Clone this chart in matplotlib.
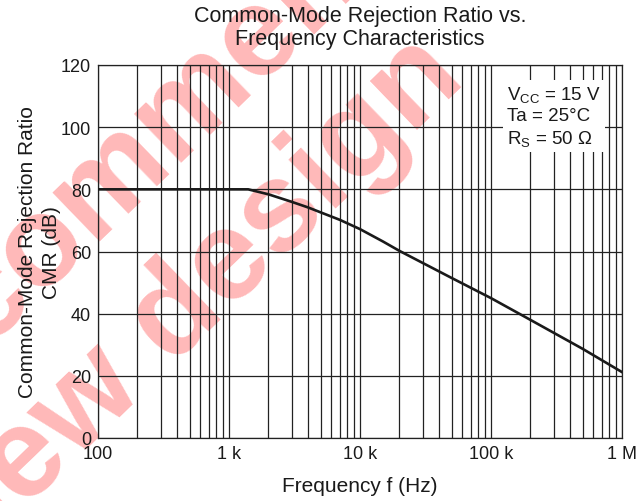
import matplotlib
matplotlib.use('Agg')
import matplotlib.pyplot as plt
from matplotlib.ticker import FixedLocator, LogLocator, NullFormatter

plt.rcParams['font.family'] = ['Liberation Sans', 'DejaVu Sans']
plt.rcParams['mathtext.default'] = 'regular'

# curve
freq_hz = [100, 1000, 1400, 2000, 3000, 4000, 5000, 7000, 10000, 15000,
           20000, 50000, 100000, 200000, 500000, 1000000]
cmr_db = [80, 80, 80, 78.4, 76, 74.2, 72.6, 70.2, 67.2, 63.2,
          60.2, 51.5, 45, 38, 28.7, 21.2]

x_ticks = [100, 1000, 10000, 100000, 1000000]
x_tick_labels = ['100', '1 k', '10 k', '100 k', '1 M']
y_ticks = [0, 20, 40, 60, 80, 100, 120]

conditions = 'V$_{CC}$ = 15 V\nTa = 25°C\nR$_S$ = 50 Ω'

fig = plt.figure(figsize=(6.37, 5.02), dpi=100)
ax = fig.add_axes([98 / 637, 1 - 439 / 502, 524 / 637, 373 / 502])
ax.set_facecolor('none')

# watermark sits behind everything
wm = dict(color='#ff0000', alpha=0.28, fontsize=92, fontweight='bold',
          rotation=44, rotation_mode='anchor', va='baseline', zorder=-5)
fig.text(528 / 637, 1 + 172 / 502, 'Not recommended', ha='right', **wm)
fig.text(468 / 637, 1 - 81 / 502, 'for new design', ha='right', **wm)

ax.plot(freq_hz, cmr_db, color='#1a1a1a', lw=1.9, zorder=3)

ax.set_xscale('log')
ax.set_xlim(100, 1e6)
ax.set_ylim(0, 120)
ax.xaxis.set_major_locator(FixedLocator(x_ticks))
ax.set_xticklabels(x_tick_labels)
ax.xaxis.set_minor_locator(LogLocator(base=10, subs=range(2, 10)))
ax.xaxis.set_minor_formatter(NullFormatter())
ax.set_yticks(y_ticks)

ax.grid(True, which='both', color='#222222', lw=0.9)
ax.tick_params(which='both', length=0, labelsize=13, pad=5, colors='#1a1a1a')
for s in ax.spines.values():
    s.set_color('#222222')
    s.set_linewidth(0.9)

ax.set_xlabel('Frequency f (Hz)', fontsize=15, labelpad=10, color='#1a1a1a')
ax.set_ylabel('Common-Mode Rejection Ratio\nCMR (dB)', fontsize=15,
              linespacing=1.38, color='#1a1a1a')
ax.yaxis.set_label_coords(-0.07, 0.5)
ax.set_title('Common-Mode Rejection Ratio vs.\nFrequency Characteristics',
             fontsize=15.5, pad=15, linespacing=1.15, color='#1a1a1a')

ax.text(0.78, 0.95, conditions, transform=ax.transAxes, ha='left', va='top',
        fontsize=13.5, linespacing=1.25, color='#1a1a1a', zorder=4,
        bbox=dict(facecolor='white', edgecolor='none', pad=3))

fig.savefig('out.png', dpi=100)
